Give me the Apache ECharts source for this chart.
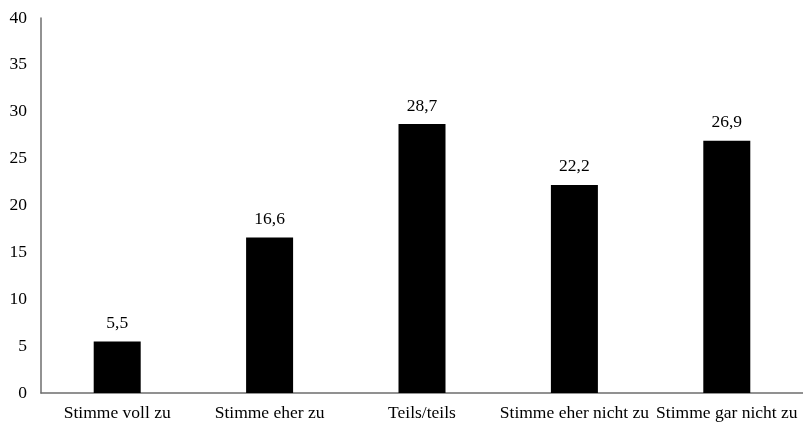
<!DOCTYPE html>
<html><head><meta charset="utf-8">
<script src="https://cdn.jsdelivr.net/npm/echarts@6/dist/echarts.min.js"></script>
<style>html,body{margin:0;padding:0;background:#fff}#c{width:803px;height:422px}</style>
</head><body><div id="c"></div>
<script>
var categories = ["Stimme voll zu", "Stimme eher zu", "Teils/teils", "Stimme eher nicht zu", "Stimme gar nicht zu"];
var values = [5.5, 16.6, 28.7, 22.2, 26.9];
var valueLabels = ["5,5", "16,6", "28,7", "22,2", "26,9"];
var yTicks = [0, 5, 10, 15, 20, 25, 30, 35, 40];

var font = "Liberation Serif";
var chart = echarts.init(document.getElementById('c'));
chart.setOption({
  animation: false,
  grid: { left: 41, top: 18, width: 768, height: 375, containLabel: false },
  xAxis: {
    type: 'category', data: categories,
    axisLine: { lineStyle: { color: '#6e6e6e', width: 1.5 } },
    axisTick: { show: false },
    axisLabel: { color: '#000', fontFamily: font, fontSize: 17.5, margin: 11, interval: 0 }
  },
  yAxis: {
    type: 'value', min: yTicks[0], max: yTicks[yTicks.length - 1], interval: 5,
    axisLine: { show: true, lineStyle: { color: '#6e6e6e', width: 1.5 } },
    axisTick: { show: false },
    splitLine: { show: false },
    axisLabel: { color: '#000', fontFamily: font, fontSize: 17.5, margin: 14 }
  },
  series: [{
    type: 'bar', data: values, barWidth: 47,
    itemStyle: { color: '#000' },
    label: {
      show: true, position: 'top', distance: 9, color: '#000', fontFamily: font, fontSize: 17.5,
      formatter: function (p) { return valueLabels[p.dataIndex]; }
    }
  }]
});
</script></body></html>
